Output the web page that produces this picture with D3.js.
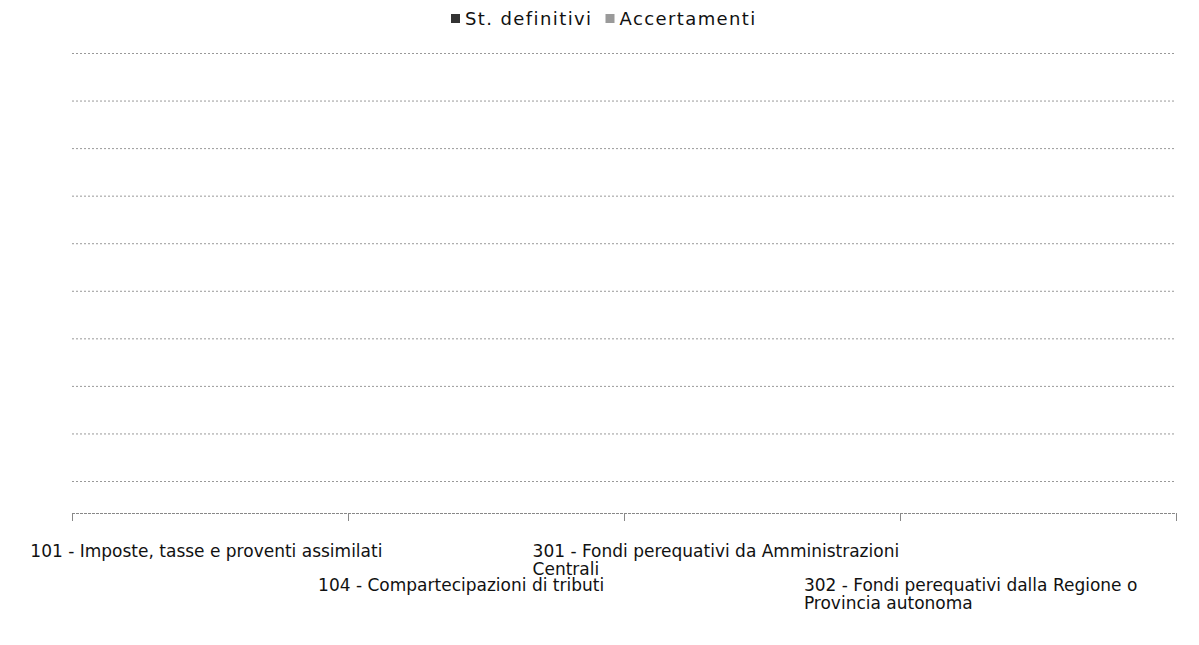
<!DOCTYPE html>
<html><head><meta charset="utf-8">
<script src="https://cdn.jsdelivr.net/npm/d3@7"></script>
<style>body{margin:0;background:#fff}</style>
</head><body><svg id="c" width="1199" height="645"></svg>
<script>
const categories = ["101", "104", "301", "302"];
const categoryLabels = [
  ["101 - Imposte, tasse e proventi assimilati"],
  ["104 - Compartecipazioni di tributi"],
  ["301 - Fondi perequativi da Amministrazioni", "Centrali"],
  ["302 - Fondi perequativi dalla Regione o", "Provincia autonoma"]
];
const labelRows = [0, 1, 0, 1];
const seriesNames = ["St. definitivi", "Accertamenti"];
const seriesColors = ["#333333", "#9a9a9a"];
const stDefinitivi = [0, 0, 0, 0];
const accertamenti = [0, 0, 0, 0];
const gridValues = [0, 1, 2, 3, 4, 5, 6, 7, 8, 9];

(function () {
const svg = d3.select("#c");
const font = "'DejaVu Sans', Verdana, sans-serif";
const plotLeft = 72, plotRight = 1176, plotTop = 53, plotBottom = 481, axisY = 513;

const x = d3.scaleBand().domain(categories).range([plotLeft, plotRight]);
const xLabel = d3.scaleBand().domain(categories).range([79, 1098]);
const xs = d3.scaleBand().domain(seriesNames).range([0, x.bandwidth()]).paddingInner(0.1).paddingOuter(0.6);
const y = d3.scaleLinear().domain([0, 9]).range([plotBottom, plotTop]);

// gridlines
svg.append("g").selectAll("line").data(gridValues).join("line")
  .attr("x1", plotLeft).attr("x2", plotRight)
  .attr("y1", d => y(d) + 0.5).attr("y2", d => y(d) + 0.5)
  .attr("stroke", "#999").attr("stroke-width", 1).attr("stroke-dasharray", "2,2");

// bars (all zero)
const series = [stDefinitivi, accertamenti];
series.forEach((vals, si) => {
  svg.append("g").selectAll("rect").data(vals).join("rect")
    .attr("x", (d, i) => x(categories[i]) + xs(seriesNames[si]))
    .attr("width", xs.bandwidth())
    .attr("y", d => y(d))
    .attr("height", d => y(0) - y(d))
    .attr("fill", seriesColors[si]);
});

// x axis
const xAxis = svg.append("g").attr("transform", `translate(0,${axisY})`);
xAxis.append("line").attr("x1", plotLeft).attr("x2", plotRight).attr("y1", 0.5).attr("y2", 0.5)
  .attr("stroke", "#888").attr("stroke-width", 1).attr("stroke-dasharray", "3,1");
const boundaries = categories.map(c => x(c)).concat([x(categories[categories.length - 1]) + x.bandwidth()]);
xAxis.selectAll("line.tick").data(boundaries).join("line").attr("class", "tick")
  .attr("x1", d => d + 0.5).attr("x2", d => d + 0.5).attr("y1", 0).attr("y2", 8)
  .attr("stroke", "#888").attr("stroke-width", 1);

// category labels (one text per wrapped line)
const lab = svg.append("g").attr("font-family", font).attr("font-size", 17).attr("fill", "#111");
categoryLabels.forEach((lines, i) => {
  const cx = xLabel(categories[i]) + xLabel.bandwidth() / 2;
  const texts = lines.map((ln, j) => lab.append("text").attr("y", 557 + labelRows[i] * 34 + j * 18).text(ln));
  const w = d3.max(texts, t => t.node().getComputedTextLength());
  const x0 = Math.max(4, Math.min(cx - w / 2, 1193 - w));
  texts.forEach(t => t.attr("x", x0));
});

// legend
const lg = svg.append("g").attr("font-family", font).attr("font-size", 18).attr("letter-spacing", 1.4).attr("fill", "#111");
let lx = 451;
seriesNames.forEach((s, i) => {
  lg.append("rect").attr("x", lx).attr("y", 14).attr("width", 9).attr("height", 9).attr("fill", seriesColors[i]);
  const t = lg.append("text").attr("x", lx + 14).attr("y", 25).text(s);
  lx += 14 + t.node().getComputedTextLength() + 13;
});
})();
</script></body></html>
